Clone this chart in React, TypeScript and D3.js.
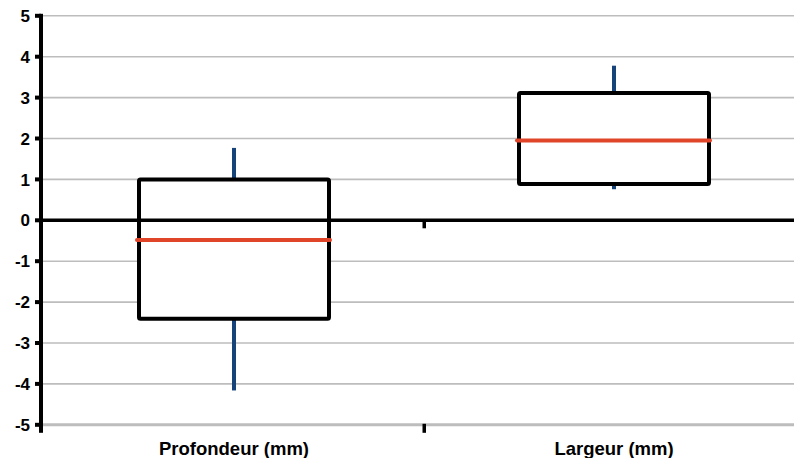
import React from "react";
import * as d3 from "d3";

const categories = ["Profondeur (mm)", "Largeur (mm)"];
const q1 = [-2.41, 0.885];
const q3 = [1.0, 3.11];
const medians = [-0.48, 1.95];
const whiskerLow = [-4.16, 0.76];
const whiskerHigh = [1.77, 3.78];
const yTicks = [5, 4, 3, 2, 1, 0, -1, -2, -3, -4, -5];

const W = 794;
const H = 458;
const axisX = 41;

export default function App() {
  const y = d3.scaleLinear().domain([-5, 5]).range([424.8, 15.8]);
  const x = d3.scaleBand().domain(categories).range([44, 804]);
  const bw = x.bandwidth();
  const boxW = bw * 0.5;
  const font = "'Liberation Sans', Arial, sans-serif";

  return (
    <svg width={W} height={H} style={{ position: "absolute", left: 0, top: 0 }}>
      <rect x={0} y={0} width={W} height={H} fill="#fff" />
      {yTicks.map((t) =>
        t === 0 || t === -5 ? null : (
          <line key={"g" + t} x1={axisX} x2={W} y1={y(t)} y2={y(t)} stroke="#bdbdbd" strokeWidth={1.6} />
        )
      )}
      <line x1={axisX} x2={W} y1={y(-5)} y2={y(-5)} stroke="#bdbdbd" strokeWidth={3} />
      {categories.slice(1).map((c) => (
        <rect key={"bt" + c} x={(x(c) as number) - 1.5} y={y(-5) - 1} width={3.5} height={9} fill="#000" />
      ))}
      {categories.map((c, i) => {
        const cx = (x(c) as number) + bw / 2;
        const x0 = cx - boxW / 2;
        return (
          <g key={c}>
            <line x1={cx} x2={cx} y1={y(whiskerHigh[i])} y2={y(q3[i])} stroke="#16447a" strokeWidth={4} />
            <line x1={cx} x2={cx} y1={y(q1[i])} y2={y(whiskerLow[i])} stroke="#16447a" strokeWidth={4} />
            <rect
              x={x0}
              y={y(q3[i])}
              width={boxW}
              height={y(q1[i]) - y(q3[i])}
              fill="#fff"
              stroke="#000"
              strokeWidth={4}
              rx={1.5}
            />
            <line
              x1={x0 - 2}
              x2={x0 + boxW + 1}
              y1={y(medians[i])}
              y2={y(medians[i])}
              stroke="#e0452a"
              strokeWidth={4}
              strokeLinecap="round"
            />
          </g>
        );
      })}
      <line x1={axisX} x2={W} y1={y(0)} y2={y(0)} stroke="#000" strokeWidth={3.5} />
      {categories.slice(1).map((c) => (
        <rect key={"zt" + c} x={(x(c) as number) - 1.5} y={y(0)} width={3.5} height={8} fill="#000" />
      ))}
      <rect x={axisX - 2} y={y(5) - 2} width={4} height={y(-5) - y(5) + 10} fill="#000" />
      {yTicks.map((t) => (
        <g key={"t" + t}>
          <rect x={axisX - 6} y={y(t) - 2} width={6} height={4} fill="#000" />
          <text
            x={axisX - 11}
            y={y(t)}
            dy="0.36em"
            textAnchor="end"
            fontFamily={font}
            fontWeight="bold"
            fontSize={17}
            fill="#000"
          >
            {t}
          </text>
        </g>
      ))}
      {categories.map((c) => (
        <text
          key={"l" + c}
          x={(x(c) as number) + bw / 2}
          y={455}
          textAnchor="middle"
          fontFamily={font}
          fontWeight="bold"
          fontSize={18.5}
          fill="#000"
        >
          {c}
        </text>
      ))}
    </svg>
  );
}
